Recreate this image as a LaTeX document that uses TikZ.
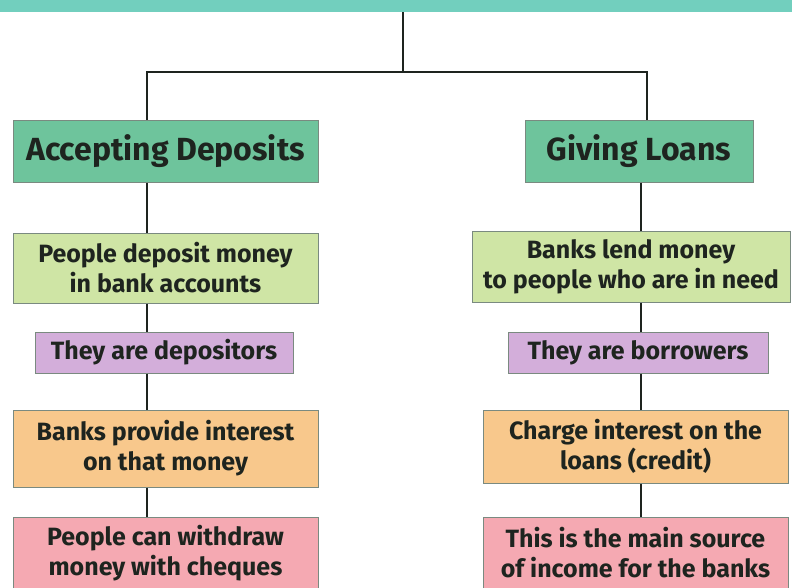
\documentclass[tikz,border=0pt]{standalone}
\usepackage{fontspec}
\setmainfont{Fira Sans}
\definecolor{bandteal}{HTML}{72CFBE}
\definecolor{hgreen}{HTML}{6EC49C}
\definecolor{lgreen}{HTML}{CFE5A5}
\definecolor{lpurple}{HTML}{D3AEDA}
\definecolor{lorange}{HTML}{F8C88C}
\definecolor{lpink}{HTML}{F5A9B2}
\definecolor{edge}{HTML}{7A8A80}
\definecolor{ink}{HTML}{1E241F}
\begin{document}
\begin{tikzpicture}[x=1pt,y=-1pt,
  box/.style={draw=edge, line width=1pt, align=center, inner sep=0pt, text=ink,
    font=\bfseries\fontsize{25}{30}\selectfont},
  head/.style={box, font=\bfseries\fontsize{32}{36}\selectfont},
  conn/.style={draw=ink, line width=2.6pt}]
\useasboundingbox (0,0) rectangle (792,587);
\clip (0,0) rectangle (792,587);
\fill[white] (0,0) rectangle (792,587);
\node[fill=bandteal, minimum width=800pt, minimum height=16pt, anchor=south west, inner sep=0pt] (title) at (-4,12) {};
\node[head, fill=hgreen, minimum width=305pt, minimum height=62pt] (ad) at (165.5,151) {Accepting Deposits};
\node[head, fill=hgreen, minimum width=228pt, minimum height=62pt] (gl) at (639,151) {Giving Loans};
\node[box, fill=lgreen, minimum width=305pt, minimum height=70pt] (l1) at (165.5,268) {People deposit money\\in bank accounts};
\node[box, fill=lpurple, minimum width=258pt, minimum height=41pt] (l2) at (164,352.5) {They are depositors};
\node[box, fill=lorange, minimum width=305pt, minimum height=77pt] (l3) at (165.5,448.5) {Banks provide interest\\on that money};
\node[box, fill=lpink, minimum width=305pt, minimum height=72pt] (l4) at (165.5,553) {People can withdraw\\money with cheques};
\node[box, fill=lgreen, minimum width=318pt, minimum height=71pt] (r1) at (631,266.5) {Banks lend money\\to people who are in need};
\node[box, fill=lpurple, minimum width=260pt, minimum height=41pt] (r2) at (638,352.5) {They are borrowers};
\node[box, fill=lorange, minimum width=305pt, minimum height=73pt] (r3) at (635.5,446.5) {Charge interest on the\\loans (credit)};
\node[box, fill=lpink, minimum width=305pt, minimum height=72pt] (r4) at (635.5,553) {This is the main source\\of income for the banks};
\coordinate (j) at (403,72);
\coordinate (lc) at (147,0);
\coordinate (rc) at (647,0);
\coordinate (rd) at (641,0);
\draw[conn] (title.south -| j) -- (j);
\draw[conn] (ad.north -| lc) |- (j) -| (gl.north -| rc);
\draw[conn] (ad.south -| lc) -- (l1.north -| lc);
\draw[conn] (l1.south -| lc) -- (l2.north -| lc);
\draw[conn] (l2.south -| lc) -- (l3.north -| lc);
\draw[conn] (l3.south -| lc) -- (l4.north -| lc);
\draw[conn] (gl.south -| rd) -- (r1.north -| rd);
\draw[conn] (r1.south -| rd) -- (r2.north -| rd);
\draw[conn] (r2.south -| rd) -- (r3.north -| rd);
\draw[conn] (r3.south -| rd) -- (r4.north -| rd);
\end{tikzpicture}
\end{document}
